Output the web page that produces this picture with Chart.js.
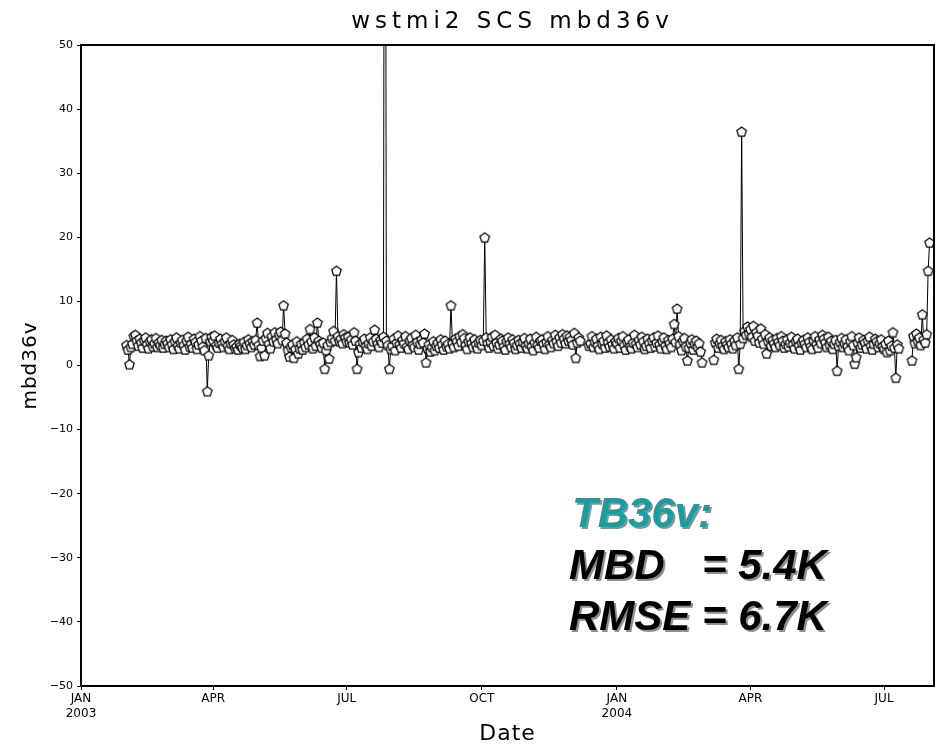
<!DOCTYPE html>
<html>
<head>
<meta charset="utf-8">
<title>wstmi2 SCS mbd36v</title>
<script src="https://cdn.jsdelivr.net/npm/chart.js@4.4.1/dist/chart.umd.min.js"></script>
<style>
  html, body { margin: 0; padding: 0; background: #fff; }
  canvas { display: block; }
</style>
</head>
<body>
<canvas id="chart" width="942" height="751"></canvas>
<script>
// ----- DATOS ----- //
// eje x: días desde 2003-01-01, una medición diaria (null = sin dato)
const ORIGIN = "2003-01-01";
const TICK_DATES = ["2003-01-01", "2003-04-01", "2003-07-01", "2003-10-01", "2004-01-01", "2004-04-01", "2004-07-01"];
const TICK_LABELS = [["JAN", "2003"], "APR", "JUL", "OCT", ["JAN", "2004"], "APR", "JUL"];
const Y_MIN = -50, Y_MAX = 50, Y_STEP = 10;

const MONTH_STARTS = ["2003-02-01", "2003-03-01", "2003-04-01", "2003-05-01", "2003-06-01", "2003-07-01",
                      "2003-08-01", "2003-09-01", "2003-10-01", "2003-11-01", "2003-12-01", "2004-01-01",
                      "2004-02-01", "2004-03-01", "2004-04-01", "2004-05-01", "2004-06-01", "2004-07-01", "2004-08-01"];

const feb03 = [3.2, 2.5, 0.2, 2.9, 3.4, 4.6, 4.8, 3.9, 3.1, 4.2, 3.6, 2.8, 3.9, 4.4, 3.3, 2.7, 3.8, 4.1, 3.0, 3.5, 4.3, 2.9, 3.6, 3.2, 4.0, 2.8, 3.4, 3.9];
const mar03 = [3.5, 2.9, 4.1, 3.3, 2.6, 3.8, 4.4, 3.1, 2.7, 3.6, 4.0, 3.2, 2.5, 3.9, 4.5, 3.0, 3.4, 2.8, 4.2, 3.7, 2.6, 3.3, 4.6, 3.9, 3.0, 2.4, 4.3, -4.0, 1.6, 3.8, 4.5];
const apr03 = [3.9, 4.7, 3.2, 2.8, 3.6, 4.2, 3.4, 2.9, 3.8, 4.4, 3.1, 2.6, 3.5, 4.0, 3.3, 2.7, 3.0, 2.5, 3.4, 3.1, 2.8, 3.7, 2.6, 3.2, 4.1, 3.5, 2.9, 3.8, 3.3, 4.0];
const may03 = [6.7, 3.2, 1.5, 2.8, 3.9, 1.6, 4.3, 5.1, 3.4, 2.7, 4.6, 3.8, 5.2, 4.1, 3.5, 4.8, 5.3, 4.0, 9.4, 5.0, 3.6, 2.4, 1.4, 2.9, 3.3, 1.2, 2.6, 3.8, 1.9, 2.7, 3.4];
const jun03 = [2.5, 3.6, 2.9, 4.2, 3.3, 5.7, 3.8, 2.7, 4.4, 3.1, 6.7, 3.9, 3.4, 2.8, 3.6, -0.5, 2.4, 3.2, 1.1, 3.7, 4.3, 5.4, 3.9, 14.8, 4.6, 3.8, 4.2, 3.5, 4.9, 4.4];
const jul03 = [3.8, 4.5, 3.6, 4.1, 3.3, 5.2, 3.9, -0.5, 2.1, 3.4, 2.8, 3.7, 4.2, 3.0, 2.6, 3.5, 4.4, 3.1, 3.8, 5.6, 4.2, 3.4, 2.9, 4.0, 3.6, 4.5, 150, 3.9, 3.2, -0.5, 2.6];
const aug03 = [3.1, 4.2, 2.4, 3.6, 4.7, 3.3, 2.8, 4.0, 3.5, 4.6, 3.0, 2.6, 3.9, 4.3, 3.2, 2.9, 4.8, 3.7, 2.5, 3.4, 4.1, 3.6, 5.0, 0.5, 2.7, 3.3, 2.2, 2.9, 3.8, 2.4, 3.1];
const sep03 = [3.6, 2.8, 4.1, 3.3, 2.5, 3.9, 3.0, 3.4, 2.7, 9.4, 3.5, 2.9, 4.2, 3.8, 3.1, 4.6, 3.7, 4.9, 4.3, 3.2, 2.6, 3.8, 4.4, 3.5, 2.9, 4.1, 3.3, 2.7, 3.6, 4.0];
const oct03 = [3.2, 3.9, 20.0, 4.4, 3.5, 2.8, 3.7, 4.5, 3.1, 4.8, 3.6, 2.7, 3.3, 4.2, 3.9, 3.0, 2.5, 3.8, 4.4, 3.4, 2.9, 4.1, 3.6, 2.6, 3.2, 4.0, 3.5, 2.8, 3.7, 4.3, 3.1];
const nov03 = [2.7, 3.5, 4.2, 3.0, 2.4, 3.6, 4.5, 3.2, 2.8, 3.9, 4.1, 3.4, 2.6, 3.7, 4.6, 3.3, 2.9, 4.0, 3.5, 4.8, 3.8, 3.1, 4.4, 3.6, 4.9, 4.2, 3.5, 4.7, 3.9, 4.5];
const dec03 = [4.0, 3.3, 5.1, 1.2, 3.6, 4.4, 3.9, null, null, null, null, null, 3.1, 3.5, 4.6, 2.9, 3.7, 4.2, 3.1, 2.6, 4.5, 3.4, 3.9, 2.8, 4.7, 3.6, 3.0, 4.1, 3.3, 2.7, 3.8];
const jan04 = [3.5, 4.3, 2.8, 3.9, 4.6, 3.2, 2.5, 3.7, 4.1, 3.0, 2.7, 3.6, 4.8, 3.4, 2.9, 4.0, 3.3, 4.5, 3.8, 2.6, 3.1, 4.2, 3.5, 2.8, 3.9, 4.4, 3.0, 3.6, 4.7, 3.3, 2.7];
const feb04 = [3.8, 4.4, 3.1, 2.6, 4.0, 3.5, 2.9, 4.2, 6.5, 3.7, 8.9, 4.6, 3.3, 2.4, 3.9, 4.3, 3.0, 0.8, 2.8, 3.6, 4.1, 2.5, 3.4, 3.9, 2.9, 3.5, 2.2, 0.5, null];
const mar04 = [null, null, null, null, null, null, 0.9, 3.6, 4.2, 2.8, 3.5, 4.0, 3.1, 2.6, 3.8, 3.3, 2.9, 4.1, 3.4, 2.7, 3.9, 3.2, 4.4, -0.5, 3.4, 36.5, 4.3, 5.4, 4.8, 6.1, 5.0];
const apr04 = [5.7, 4.5, 6.2, 3.9, 5.2, 4.7, 3.6, 5.8, 4.2, 3.4, 4.9, 1.9, 3.8, 4.4, 3.1, 4.0, 3.5, 2.9, 4.3, 3.7, 3.2, 4.6, 3.9, 2.8, 3.4, 4.1, 3.0, 3.6, 4.5, 3.3];
const may04 = [2.7, 3.8, 4.2, 3.1, 2.5, 3.6, 4.0, 3.4, 2.9, 4.4, 3.7, 3.0, 2.6, 3.9, 4.6, 3.3, 2.8, 4.1, 3.5, 4.8, 4.2, 3.6, 2.9, 4.5, 3.2, 3.9, 2.6, 3.4, 4.0, -0.8, 3.1];
const jun04 = [3.7, 4.3, 2.9, 3.5, 4.1, 3.0, 2.4, 3.8, 4.6, 3.2, 0.3, 1.3, 3.6, 4.4, 2.8, 3.3, 4.0, 3.6, 2.7, 3.9, 4.5, 3.1, 2.5, 3.4, 4.2, 3.8, 2.9, 3.5, 4.1, 3.0];
const jul04 = [2.6, 3.4, 2.1, 3.9, 2.4, 3.1, 5.2, 2.8, -1.9, 3.3, 2.7, null, null, null, null, null, null, null, null, 0.8, 4.6, 3.5, 5.0, 3.8, 4.4, 3.2, 8.0, 4.1, 3.6, 4.9, 14.8];
const aug04 = [19.2];

const MONTHS = [feb03, mar03, apr03, may03, jun03, jul03, aug03, sep03, oct03, nov03, dec03,
                jan04, feb04, mar04, apr04, may04, jun04, jul04, aug04];
const X_END = "2004-08-04";

// ----- UTILIDADES ----- //
function dayOf(iso) {
    const [y, m, d] = iso.split("-").map(Number);
    const [y0, m0, d0] = ORIGIN.split("-").map(Number);
    return (Date.UTC(y, m - 1, d) - Date.UTC(y0, m0 - 1, d0)) / 864e5;
}

function buildPoints() {
    let pts = [];
    MONTHS.forEach((vals, i) => {
        const start = dayOf(MONTH_STARTS[i]);
        vals.forEach((v, j) => pts.push({x: start + j, y: v}));
    });
    return pts;
}

// marcador pentágono abierto (estilo GrADS)
function pentagon(r) {
    const c = document.createElement("canvas");
    const s = Math.ceil(r * 2 + 3);
    c.width = c.height = s;
    const g = c.getContext("2d");
    g.beginPath();
    for (let k = 0; k < 5; k++) {
        const a = -Math.PI / 2 + k * 2 * Math.PI / 5;
        const px = s / 2 + r * Math.cos(a), py = s / 2 + r * Math.sin(a) + 0.5;
        k ? g.lineTo(px, py) : g.moveTo(px, py);
    }
    g.closePath();
    g.fillStyle = "#fff";
    g.fill();
    g.strokeStyle = "#000";
    g.lineWidth = 1.2;
    g.stroke();
    return c;
}

function shadowText(ctx, txt, x, y, color) {
    ctx.fillStyle = "#8f8f8f";
    ctx.fillText(txt, x + 2, y + 2);
    ctx.fillStyle = color;
    ctx.fillText(txt, x, y);
}

// ----- PLUGINS ----- //
const frameAndTitles = {
    id: "frameAndTitles",
    afterDraw(chart) {
        const ctx = chart.ctx, a = chart.chartArea;
        ctx.save();
        // marco
        ctx.strokeStyle = "#000";
        ctx.lineWidth = 2;
        ctx.strokeRect(a.left, a.top, a.right - a.left, a.bottom - a.top);
        // títulos
        ctx.fillStyle = "#000";
        ctx.textAlign = "center";
        ctx.textBaseline = "alphabetic";
        ctx.font = "23px 'DejaVu Sans', sans-serif";
        ctx.letterSpacing = "5px";
        ctx.fillText("wstmi2 SCS mbd36v", (a.left + a.right) / 2 + 5, 28);
        ctx.font = "22px 'DejaVu Sans', sans-serif";
        ctx.letterSpacing = "1px";
        ctx.fillText("Date", (a.left + a.right) / 2, 740);
        ctx.font = "20px 'DejaVu Sans', sans-serif";
        ctx.translate(36, (a.top + a.bottom) / 2);
        ctx.rotate(-Math.PI / 2);
        ctx.fillText("mbd36v", 0, 0);
        ctx.restore();

        // recuadro de estadísticas
        ctx.save();
        ctx.font = "italic bold 42px 'Liberation Sans', Arial, sans-serif";
        ctx.textAlign = "left";
        ctx.textBaseline = "alphabetic";
        const eqX = 569 + ctx.measureText("RMSE ").width;
        shadowText(ctx, "TB36v:", 572, 527, "#189e9e");
        shadowText(ctx, "MBD", 569, 579, "#000");
        shadowText(ctx, "= 5.4K", eqX, 579, "#000");
        shadowText(ctx, "RMSE = 6.7K", 569, 630, "#000");
        ctx.restore();
    }
};

// ----- GRÁFICO ----- //
const tickDays = TICK_DATES.map(dayOf);
const marker = pentagon(5);

new Chart(document.getElementById("chart"), {
    type: "line",
    data: {
        datasets: [{
            label: "mbd36v",
            data: buildPoints(),
            borderColor: "#000",
            borderWidth: 1,
            tension: 0,
            spanGaps: false,
            pointStyle: marker,
            pointRadius: 5,
            pointHoverRadius: 5
        }]
    },
    options: {
        responsive: false,
        animation: false,
        devicePixelRatio: 1,
        layout: {padding: {top: 45, right: 8, bottom: 0, left: 0}},
        plugins: {legend: {display: false}, tooltip: {enabled: false}},
        scales: {
            x: {
                type: "linear",
                min: 0,
                max: dayOf(X_END),
                afterFit: s => { s.height = 65; },
                afterBuildTicks: s => { s.ticks = tickDays.map(v => ({value: v})); },
                grid: {drawOnChartArea: false, drawTicks: true, tickLength: 4, color: "#000"},
                border: {display: false},
                ticks: {
                    autoSkip: false, maxRotation: 0, padding: 1, color: "#000",
                    font: {family: "'DejaVu Sans', sans-serif", size: 12, lineHeight: 1.25},
                    callback: v => TICK_LABELS[tickDays.indexOf(v)]
                }
            },
            y: {
                min: Y_MIN,
                max: Y_MAX,
                afterFit: s => { s.width = 81; },
                grid: {drawOnChartArea: false, drawTicks: true, tickLength: 4, color: "#000"},
                border: {display: false},
                ticks: {
                    stepSize: Y_STEP, padding: 4, color: "#000",
                    font: {family: "'DejaVu Sans', sans-serif", size: 11},
                    callback: v => v < 0 ? "\u2212" + Math.abs(v) : String(v)
                }
            }
        }
    },
    plugins: [frameAndTitles]
});
</script>
</body>
</html>
